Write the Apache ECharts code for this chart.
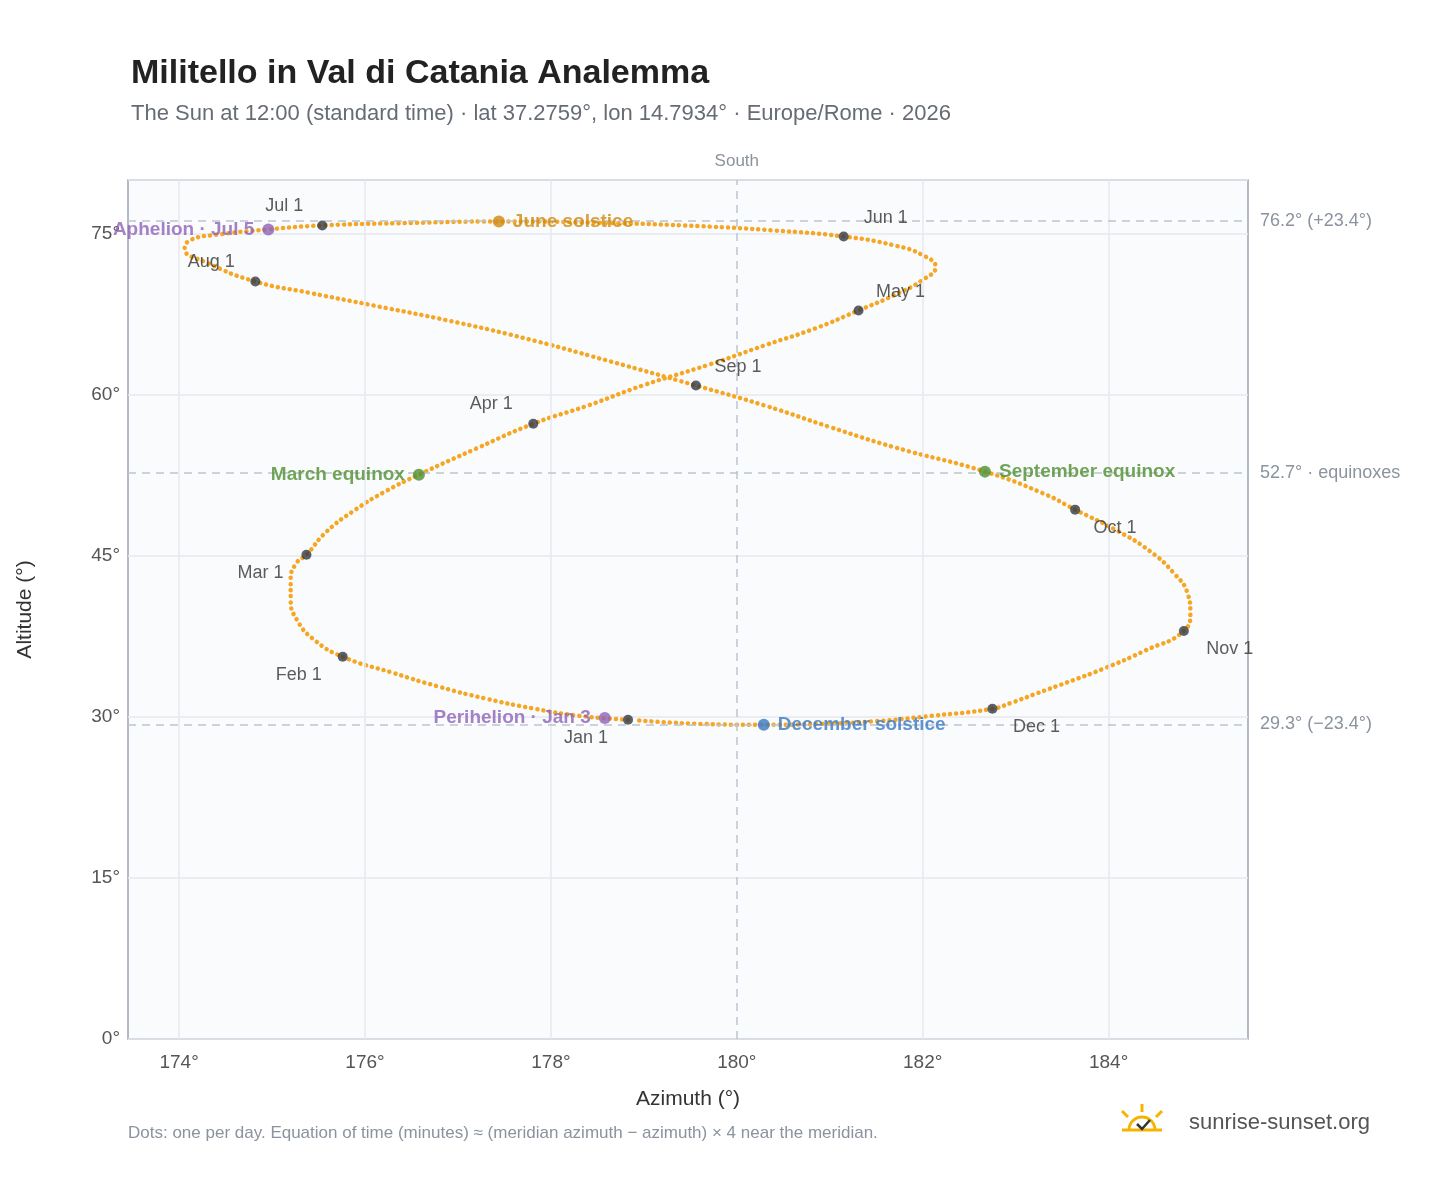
<!DOCTYPE html>
<html lang="en">
<head>
<meta charset="utf-8">
<title>Militello in Val di Catania Analemma</title>
<script src="https://cdn.jsdelivr.net/npm/echarts@6/dist/echarts.min.js"></script>
<style>
  html, body, #main { width: 100%; height: 100%; margin: 0; padding: 0; background: #fff; }
</style>
</head>
<body>
<div id="main"></div>
<script>
// analemma path, every 5 days: [azimuth, altitude]
var pathAz = [178.83,178.3,177.8,177.3,176.8,176.3,175.76,175.45,175.27,175.2,175.2,175.26,175.37,175.58,175.88,176.22,176.58,177.2,177.81,178.4,179.0,179.7,180.3,180.85,181.31,181.7,182.0,182.14,182.0,181.7,181.15,180.4,179.6,178.6,177.44,176.5,175.54,174.96,174.4,174.12,174.06,174.3,174.82,175.4,176.1,176.9,177.7,178.6,179.56,180.3,181.0,181.7,182.67,183.3,183.64,184.1,184.45,184.7,184.85,184.88,184.81,184.4,183.95,183.55,183.2,182.95,182.75,182.1,181.5,180.9,180.29,179.6,178.9];
var pathAlt = [29.73,30.1,30.8,31.7,32.8,34.1,35.6,37.2,39.0,40.9,42.8,44.3,45.1,47.2,49.2,51.0,52.56,55.0,57.3,59.0,60.9,62.8,64.6,66.2,67.85,69.3,70.7,71.9,73.0,73.9,74.74,75.3,75.7,76.0,76.14,76.0,75.77,75.4,74.9,74.4,73.6,72.3,70.55,69.5,68.3,66.9,65.3,63.2,60.86,59.0,57.0,55.1,52.84,50.8,49.3,47.3,45.4,43.4,41.5,39.7,38.0,36.2,34.5,33.2,32.1,31.3,30.75,30.1,29.6,29.35,29.26,29.35,29.7];

var monthNames = ['Jan 1','Feb 1','Mar 1','Apr 1','May 1','Jun 1','Jul 1','Aug 1','Sep 1','Oct 1','Nov 1','Dec 1'];
var monthAz = [178.83,175.76,175.37,177.81,181.31,181.15,175.54,174.82,179.56,183.64,184.81,182.75];
var monthAlt = [29.73,35.6,45.1,57.3,67.85,74.74,75.77,70.55,60.86,49.3,38.0,30.75];

var eventNames = ['Perihelion · Jan 3','March equinox','June solstice','Aphelion · Jul 5','September equinox','December solstice'];
var eventAz = [178.58,176.58,177.44,174.96,182.67,180.29];
var eventAlt = [29.9,52.56,76.14,75.4,52.84,29.26];
var eventColors = ['#8e63b8','#4f8f2f','#d18a0c','#8e63b8','#4f8f2f','#3a78c2'];

var refAlt = [76.2, 52.7, 29.3];
var refLabels = ['76.2° (+23.4°)', '52.7° · equinoxes', '29.3° (−23.4°)'];

// label offsets (style only)
var monthOffsets = [[-42,18],[-44,18],[-46,18],[-42,-20],[42,-18],[42,-18],[-38,-19],[-44,-19],[42,-18],[40,18],[46,18],[44,18]];
var eventLabelPos = ['left','left','right','left','right','right'];

var path = pathAz.map(function (a, i) { return [a, pathAlt[i]]; });
var months = monthAz.map(function (a, i) {
  return { value: [a, monthAlt[i]], name: monthNames[i],
    label: { offset: monthOffsets[i] } };
});
var events = eventAz.map(function (a, i) {
  return { value: [a, eventAlt[i]], name: eventNames[i],
    itemStyle: { color: eventColors[i] },
    label: { position: eventLabelPos[i], color: eventColors[i] } };
});

var myChart = echarts.init(document.getElementById('main'));
myChart.setOption({
  backgroundColor: '#fff',
  textStyle: { fontFamily: 'Liberation Sans, Arial, sans-serif' },
  title: {
    text: 'Militello in Val di Catania Analemma',
    subtext: 'The Sun at 12:00 (standard time) · lat 37.2759°, lon 14.7934° · Europe/Rome · 2026',
    left: 126, top: 52,
    textStyle: { fontSize: 34, fontWeight: 'bold', color: '#222' },
    subtextStyle: { fontSize: 22, color: '#666c75' },
    itemGap: 12
  },
  grid: { left: 128, right: 200, top: 180, bottom: 149, backgroundColor: '#f9fbfd', show: true, borderColor: '#9aa4b2', borderWidth: 1.5 },
  xAxis: {
    type: 'value', min: 173.45, max: 185.5, interval: 2,
    name: 'Azimuth (°)', nameLocation: 'middle', nameGap: 50,
    nameTextStyle: { fontSize: 21, color: '#333' },
    axisLine: { show: false }, axisTick: { show: false },
    axisLabel: { fontSize: 19, color: '#555', margin: 14,
      formatter: function (v) { return (v % 2 === 0) ? v + '°' : ''; },
      customValues: [174,176,178,180,182,184] },
    splitLine: { show: false }
  },
  yAxis: {
    type: 'value', min: 0, max: 80, interval: 15,
    name: 'Altitude (°)', nameLocation: 'middle', nameGap: 92,
    nameTextStyle: { fontSize: 21, color: '#333' },
    axisLine: { show: false }, axisTick: { show: false },
    axisLabel: { fontSize: 19, color: '#555', showMaxLabel: false, formatter: '{value}°' },
    splitLine: { show: true, lineStyle: { color: '#e6e9ee', width: 1.5 } }
  },
  series: [
    {
      type: 'line', data: [[174,0]], showSymbol: false, silent: true,
      lineStyle: { opacity: 0 },
      markLine: {
        silent: true, symbol: 'none',
        lineStyle: { color: '#bcc5cf', type: [8, 6], width: 1.5 },
        data: [
          { xAxis: 174, lineStyle: { color: '#e6e9ee', type: 'solid' }, label: { show: false } },
          { xAxis: 176, lineStyle: { color: '#e6e9ee', type: 'solid' }, label: { show: false } },
          { xAxis: 178, lineStyle: { color: '#e6e9ee', type: 'solid' }, label: { show: false } },
          { xAxis: 182, lineStyle: { color: '#e6e9ee', type: 'solid' }, label: { show: false } },
          { xAxis: 184, lineStyle: { color: '#e6e9ee', type: 'solid' }, label: { show: false } },
          { xAxis: 180, label: { formatter: 'South', position: 'end', color: '#8a939e', fontSize: 17, distance: 10 } }
        ].concat(refAlt.map(function (v, i) {
          return { yAxis: v, label: { formatter: refLabels[i], position: 'end', color: '#8a939e', fontSize: 18, distance: 12 } };
        }))
      }
    },
    {
      type: 'line', data: path, smooth: 0.5, showSymbol: false, silent: true,
      lineStyle: { color: '#f5a623', width: 4.5, type: [0.1, 6], cap: 'round' }
    },
    {
      type: 'scatter', data: months, symbolSize: 10, z: 5,
      itemStyle: { color: '#343a42' },
      label: { show: true, formatter: '{b}', fontSize: 18, color: '#333', position: 'inside' }
    },
    {
      type: 'scatter', data: events, symbolSize: 12, z: 6,
      label: { show: true, formatter: '{b}', fontSize: 19, fontWeight: 'bold', distance: 8 }
    }
  ],
  graphic: [
    { type: 'text', left: 128, top: 1125, style: { text: 'Dots: one per day. Equation of time (minutes) ≈ (meridian azimuth − azimuth) × 4 near the meridian.', fontSize: 17, fill: '#8a939e' } },
    { type: 'text', left: 1189, top: 1112, style: { text: 'sunrise-sunset.org', fontSize: 22, fill: '#555' } },
    { type: 'arc', shape: { cx: 1142, cy: 1130, r: 13, startAngle: Math.PI, endAngle: 2 * Math.PI }, style: { stroke: '#f5b400', lineWidth: 3, fill: 'none' } },
    { type: 'line', shape: { x1: 1142, y1: 1112, x2: 1142, y2: 1104 }, style: { stroke: '#f5b400', lineWidth: 3 } },
    { type: 'line', shape: { x1: 1128, y1: 1117, x2: 1122, y2: 1111 }, style: { stroke: '#f5b400', lineWidth: 3 } },
    { type: 'line', shape: { x1: 1156, y1: 1117, x2: 1162, y2: 1111 }, style: { stroke: '#f5b400', lineWidth: 3 } },
    { type: 'line', shape: { x1: 1122, y1: 1130, x2: 1162, y2: 1130 }, style: { stroke: '#f5b400', lineWidth: 3 } },
    { type: 'polyline', shape: { points: [[1137,1124],[1142,1129],[1150,1120]] }, style: { stroke: '#333', lineWidth: 2.5, fill: 'none' } }
  ]
});
</script>
</body>
</html>
